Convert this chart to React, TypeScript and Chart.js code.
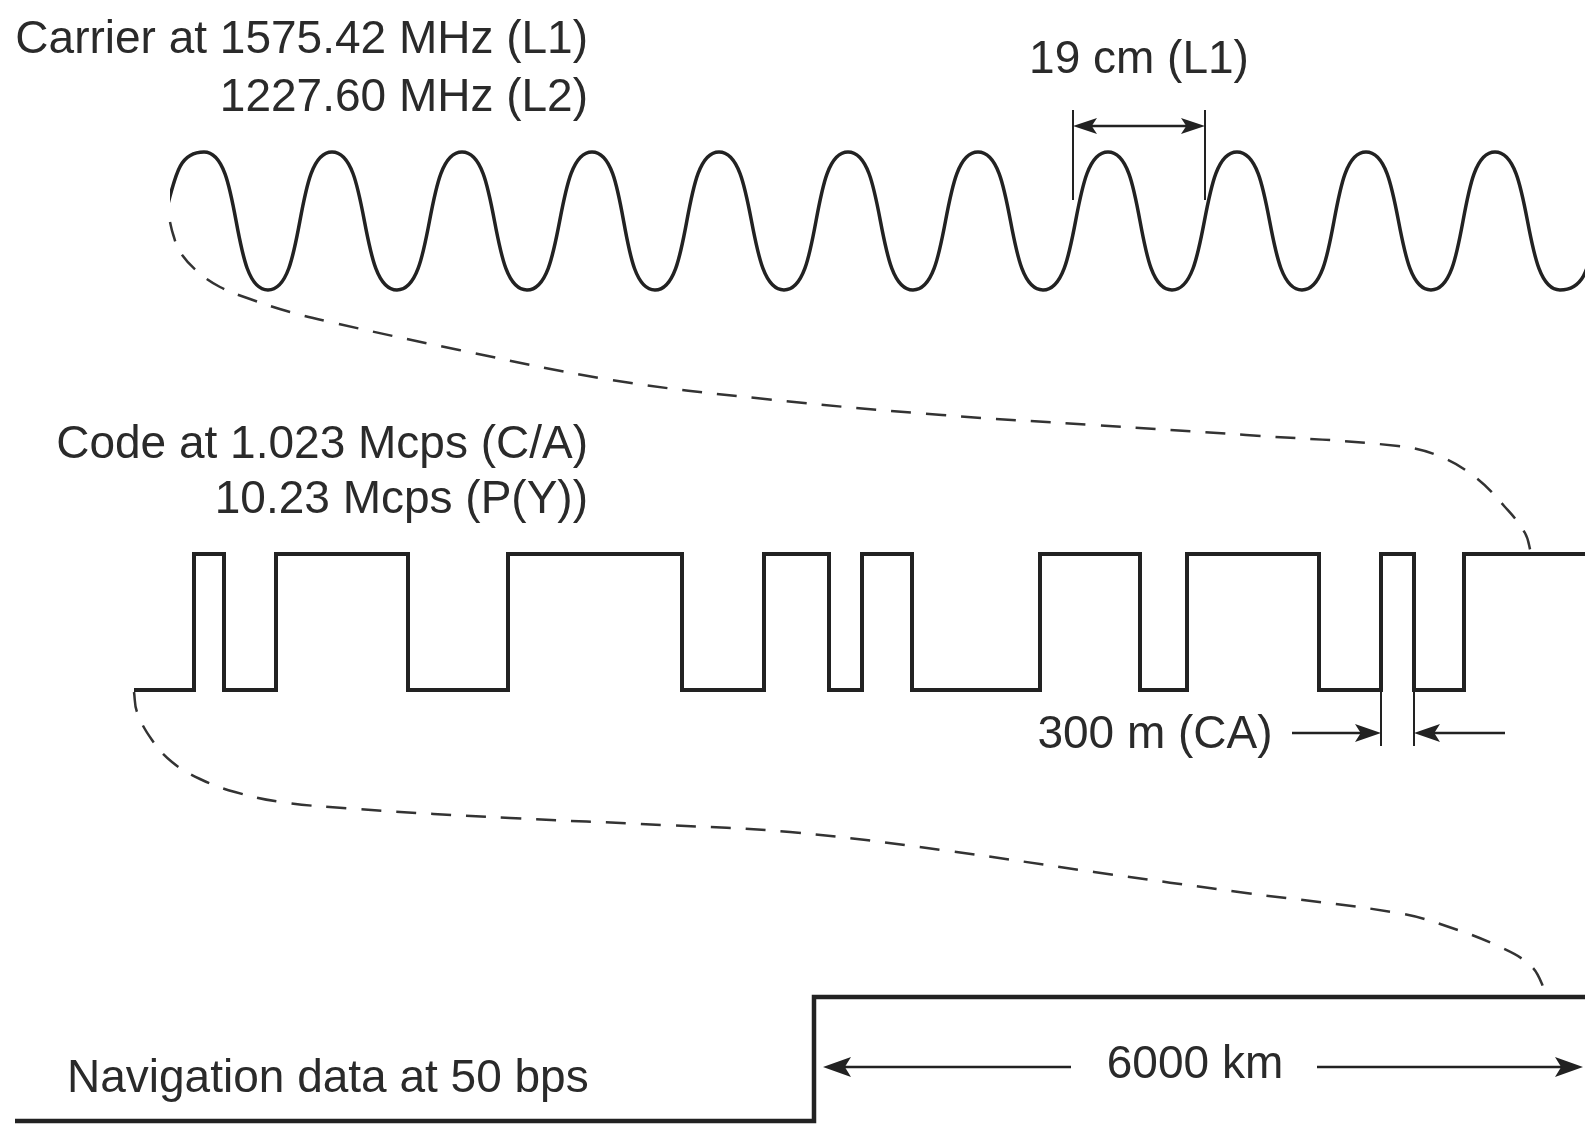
import React, { useEffect, useRef } from "react";
import { Chart, registerables } from "chart.js";

Chart.register(...registerables);

const W = 1585;
const H = 1131;
const INK = "#222222";
const TEXT = "#2a2a2a";

// Carrier (L1/L2): crests and troughs of the wave
const carrierX = [139, 204, 268, 332, 397, 462, 527, 592, 655, 719, 784, 848, 913, 978, 1043, 1108, 1172, 1237, 1302, 1366, 1431, 1495, 1560, 1624];
const carrierY = [290, 152, 290, 152, 290, 152, 290, 152, 290, 152, 290, 152, 290, 152, 290, 152, 290, 152, 290, 152, 290, 152, 290, 152];
const carrierStartX = 170; // the drawn wave begins here

// C/A code: chip edges and the level after each edge (1 = high, 0 = low)
const codeEdgesX = [134, 194, 224, 276, 408, 508, 682, 764, 829, 862, 912, 1040, 1140, 1187, 1319, 1381, 1414, 1464, 1585];
const codeBits = [0, 1, 0, 1, 0, 1, 0, 1, 0, 1, 0, 1, 0, 1, 0, 1, 0, 1, 1];
const codeLevelY = [690, 554];

// Navigation data bit edges
const navEdgesX = [15, 814, 1585];
const navBits = [0, 1, 1];
const navLevelY = [1121, 997];

// Dashed "zoom" connectors
const link1X = [170, 173, 180, 198, 220, 250, 290, 330, 459, 612, 765, 942, 1094, 1246, 1398, 1439, 1475, 1505, 1525, 1531];
const link1Y = [222, 234, 252, 272, 287, 299, 312, 322, 350, 380, 399, 415, 425, 435, 446, 456, 477, 507, 533, 553];
const link2X = [134, 137, 152, 172, 200, 235, 281, 357, 510, 663, 790, 942, 1094, 1246, 1398, 1449, 1500, 1530, 1542, 1543];
const link2Y = [692, 712, 740, 762, 779, 792, 802, 809, 818, 825, 832, 850, 872, 893, 913, 927, 947, 965, 984, 997];

// Text labels
const labelTexts = ["Carrier at 1575.42 MHz (L1)", "1227.60 MHz (L2)", "19 cm (L1)", "Code at 1.023 Mcps (C/A)", "10.23 Mcps (P(Y))", "300 m (CA)", "Navigation data at 50 bps", "6000 km"];
const labelX = [588, 588, 1139, 588, 588, 1155, 67, 1195];
const labelY = [53, 111, 73, 458, 513, 748, 1092, 1078];
const labelAlign: CanvasTextAlign[] = ["right", "right", "center", "right", "right", "center", "left", "center"];

// Dimension marks: extension ticks and arrows
const tickX = [1073, 1205, 1381, 1414];
const tickY1 = [110, 110, 692, 692];
const tickY2 = [200, 200, 746, 746];
const arrowFromX = [1139, 1139, 1292, 1505, 1071, 1317];
const arrowToX = [1073, 1205, 1381, 1414, 823, 1583];
const arrowY = [126, 126, 733, 733, 1067, 1067];
const arrowHeadLen = [24, 24, 26, 26, 28, 28];
const arrowHeadHalf = [8, 8, 9, 9, 10, 10];

const pts = (xs: number[], ys: number[]) => xs.map((x, i) => ({ x, y: ys[i] }));

const overlay = {
  id: "overlay",
  beforeDatasetDraw(chart: any, args: any) {
    if (args.index !== 0) return;
    const { ctx } = chart;
    const x0 = chart.scales.x.getPixelForValue(carrierStartX);
    ctx.save();
    ctx.beginPath();
    ctx.rect(x0, 0, chart.width - x0, chart.height);
    ctx.clip();
  },
  afterDatasetDraw(chart: any, args: any) {
    if (args.index !== 0) return;
    chart.ctx.restore();
  },
  afterDatasetsDraw(chart: any) {
    const { ctx } = chart;
    const sx = chart.scales.x;
    const sy = chart.scales.y;
    const px = (v: number) => sx.getPixelForValue(v);
    const py = (v: number) => sy.getPixelForValue(v);
    ctx.save();
    ctx.strokeStyle = INK;
    ctx.fillStyle = INK;
    ctx.lineWidth = 2;
    ctx.lineCap = "butt";
    tickX.forEach((x, i) => {
      ctx.beginPath();
      ctx.moveTo(px(x), py(tickY1[i]));
      ctx.lineTo(px(x), py(tickY2[i]));
      ctx.stroke();
    });
    arrowFromX.forEach((x1, i) => {
      const x2 = arrowToX[i];
      const y = py(arrowY[i]);
      const a = px(x1);
      const b = px(x2);
      const dir = b > a ? 1 : -1;
      const len = arrowHeadLen[i];
      const half = arrowHeadHalf[i];
      ctx.lineWidth = 2.6;
      ctx.beginPath();
      ctx.moveTo(a, y);
      ctx.lineTo(b - dir * len * 0.6, y);
      ctx.stroke();
      ctx.beginPath();
      ctx.moveTo(b, y);
      ctx.lineTo(b - dir * len, y - half);
      ctx.lineTo(b - dir * len * 0.78, y);
      ctx.lineTo(b - dir * len, y + half);
      ctx.closePath();
      ctx.fill();
    });
    ctx.fillStyle = TEXT;
    ctx.font = "46px 'Liberation Sans', Arial, Helvetica, sans-serif";
    ctx.textBaseline = "alphabetic";
    labelTexts.forEach((t, i) => {
      ctx.textAlign = labelAlign[i];
      ctx.fillText(t, px(labelX[i]), py(labelY[i]));
    });
    ctx.restore();
  },
};

export default function App() {
  const ref = useRef<HTMLCanvasElement | null>(null);
  useEffect(() => {
    document.body.style.margin = "0";
    const canvas = ref.current;
    if (!canvas) return;
    const chart = new Chart(canvas, {
      type: "scatter",
      data: {
        datasets: [
          {
            data: pts(carrierX, carrierY),
            showLine: true,
            borderColor: INK,
            borderWidth: 3.5,
            tension: 0.6,
            pointRadius: 0,
          } as any,
          {
            data: pts(codeEdgesX, codeBits.map((b) => codeLevelY[b])),
            showLine: true,
            stepped: "before",
            borderColor: INK,
            borderWidth: 4,
            pointRadius: 0,
          } as any,
          {
            data: pts(navEdgesX, navBits.map((b) => navLevelY[b])),
            showLine: true,
            stepped: "before",
            borderColor: INK,
            borderWidth: 4.5,
            pointRadius: 0,
          } as any,
          {
            data: pts(link1X, link1Y),
            showLine: true,
            tension: 0.4,
            borderColor: "#333333",
            borderWidth: 2.5,
            borderDash: [20, 15],
            pointRadius: 0,
          } as any,
          {
            data: pts(link2X, link2Y),
            showLine: true,
            tension: 0.4,
            borderColor: "#333333",
            borderWidth: 2.5,
            borderDash: [20, 15],
            pointRadius: 0,
          } as any,
        ],
      },
      options: {
        animation: false,
        responsive: false,
        maintainAspectRatio: false,
        devicePixelRatio: 1,
        layout: { padding: 0 },
        events: [],
        scales: {
          x: { type: "linear", min: 0, max: W, display: false },
          y: { type: "linear", min: 0, max: H, reverse: true, display: false },
        },
        plugins: { legend: { display: false }, tooltip: { enabled: false } },
      },
      plugins: [overlay],
    });
    return () => chart.destroy();
  }, []);
  return (
    <div style={{ position: "absolute", left: 0, top: 0, width: W, height: H, background: "#ffffff" }}>
      <canvas ref={ref} width={W} height={H} style={{ display: "block", width: W, height: H }} />
    </div>
  );
}
